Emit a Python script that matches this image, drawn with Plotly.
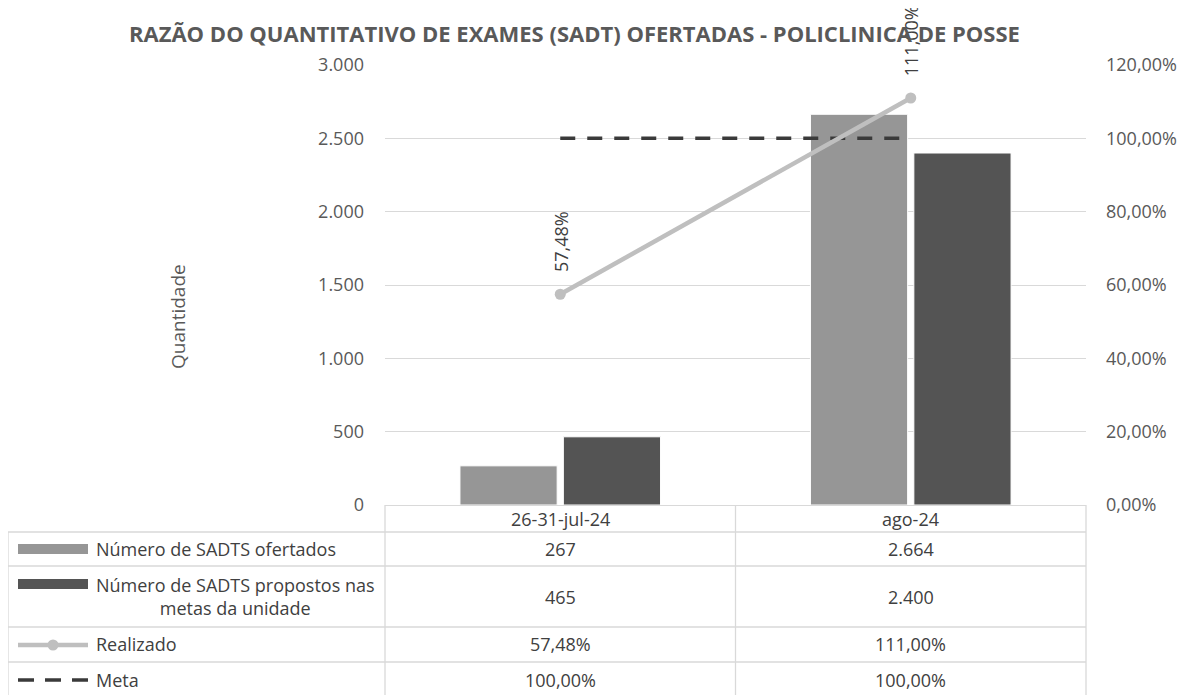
import plotly.graph_objects as go

# ---------------- data ----------------
categories = ["26-31-jul-24", "ago-24"]
ofertados = [267, 2664]
propostos = [465, 2400]
realizado = [0.5748, 1.11]
meta = [1.0, 1.0]
series_names = ["Número de SADTS ofertados",
                "Número de SADTS propostos nas<br>metas da unidade",
                "Realizado", "Meta"]
title_text = "RAZÃO DO QUANTITATIVO DE EXAMES (SADT) OFERTADAS - POLICLINICA DE POSSE"
y_title = "Quantidade"

# ---------------- style ----------------
OFF = 8                                   # page body margin of the html page
W, H = 1194 - OFF, 695 - OFF
L, R, T, B = 385, 1086, 65, 505          # plot area in page pixels
FONT = "Open Sans"
FS = 18
C_TXT = "#595959"
C_TAB = "#404040"
C_GRID = "#d9d9d9"
C_BAR1 = "#969696"
C_BAR2 = "#545454"
C_LINE = "#bfbfbf"
C_META = "#3a3a3a"


def px(x):
    return (x - L) / (R - L)


def py(y):
    return (B - y) / (B - T)


def fmt_int(v):
    return f"{v:,}".replace(",", ".")


def fmt_pct(v):
    return f"{v*100:.2f}%".replace(".", ",")


fig = go.Figure()
fig.add_trace(go.Bar(x=categories, y=ofertados, name=series_names[0],
                     marker=dict(color=C_BAR1, line=dict(color="white", width=1))))
fig.add_trace(go.Bar(x=categories, y=propostos, name=series_names[1],
                     marker=dict(color=C_BAR2, line=dict(color="white", width=1))))
fig.add_trace(go.Scatter(x=categories, y=meta, yaxis="y2", mode="lines", name="Meta",
                         line=dict(color=C_META, width=3.5, dash="15px,12px")))
fig.add_trace(go.Scatter(x=categories, y=realizado, yaxis="y2", mode="lines+markers",
                         name="Realizado",
                         line=dict(color=C_LINE, width=4.5),
                         marker=dict(color=C_LINE, size=11)))

annotations = []
shapes = []

# rotated data labels for Realizado
for c, v in zip(categories, realizado):
    annotations.append(dict(x=c, y=v, xref="x", yref="y2", text=fmt_pct(v),
                            textangle=-90, showarrow=False, xanchor="center",
                            yanchor="bottom", yshift=20,
                            font=dict(family=FONT, size=FS, color=C_TAB)))

# title & y title
annotations.append(dict(x=px(574), y=py(33), xref="paper", yref="paper",
                        text=f"<b>{title_text}</b>", showarrow=False,
                        xanchor="center", yanchor="middle",
                        font=dict(family=FONT, size=22, color=C_TXT)))
annotations.append(dict(x=px(178), y=py(317), xref="paper", yref="paper",
                        text=y_title, textangle=-90, showarrow=False,
                        xanchor="center", yanchor="middle",
                        font=dict(family=FONT, size=19, color=C_TXT)))

# ---------------- data table ----------------
row_lines = [532, 566, 627, 662]
row_centers = [549, 596.5, 644.5, 679.5]
row_values = [[fmt_int(v) for v in ofertados],
              [fmt_int(v) for v in propostos],
              [fmt_pct(v) for v in realizado],
              [fmt_pct(v) for v in meta]]

line_style = dict(color=C_GRID, width=1.3)
for yl in row_lines:
    shapes.append(dict(type="line", xref="paper", yref="paper",
                       x0=px(8), x1=px(R), y0=py(yl), y1=py(yl), line=line_style))
for xl, ytop in [(8, 532), (L, B), (735.5, B), (R, B)]:
    shapes.append(dict(type="line", xref="paper", yref="paper",
                       x0=px(xl), x1=px(xl), y0=py(ytop), y1=py(700), line=line_style))

# category header
for c in categories:
    annotations.append(dict(x=c, y=py(519), xref="x", yref="paper", text=c,
                            showarrow=False, xanchor="center", yanchor="middle",
                            font=dict(family=FONT, size=FS, color=C_TAB)))

for rc, vals in zip(row_centers, row_values):
    for c, t in zip(categories, vals):
        annotations.append(dict(x=c, y=py(rc), xref="x", yref="paper", text=t,
                                showarrow=False, xanchor="center", yanchor="middle",
                                font=dict(family=FONT, size=FS, color=C_TAB)))

# legend keys and names in table
for rc, name in zip(row_centers, series_names):
    annotations.append(dict(x=px(94), y=py(rc), xref="paper", yref="paper", text=name,
                            xanchor="left", yanchor="middle", align="center",
                            showarrow=False,
                            font=dict(family=FONT, size=FS, color=C_TAB)))
# bar keys
shapes.append(dict(type="rect", xref="paper", yref="paper", x0=px(18), x1=px(88),
                   y0=py(544), y1=py(554), fillcolor=C_BAR1, line=dict(width=0)))
shapes.append(dict(type="rect", xref="paper", yref="paper", x0=px(18), x1=px(88),
                   y0=py(579), y1=py(589), fillcolor=C_BAR2, line=dict(width=0)))
# Realizado key
shapes.append(dict(type="line", xref="paper", yref="paper", x0=px(18), x1=px(88),
                   y0=py(645), y1=py(645), line=dict(color=C_LINE, width=4.5)))
shapes.append(dict(type="circle", xref="paper", yref="paper", x0=px(47.5), x1=px(58.5),
                   y0=py(639.5), y1=py(650.5), fillcolor=C_LINE, line=dict(width=0)))
# Meta key
shapes.append(dict(type="line", xref="paper", yref="paper", x0=px(18), x1=px(88),
                   y0=py(680), y1=py(680), line=dict(color=C_META, width=3.5, dash="16px,11px")))

fig.update_layout(
    width=W, height=H,
    margin=dict(l=L - OFF, r=W - (R - OFF), t=T - OFF, b=H - (B - OFF), pad=0),
    paper_bgcolor="white", plot_bgcolor="white",
    separators=",.",
    showlegend=False,
    barmode="group", bargap=0.41, bargroupgap=0.06,
    font=dict(family=FONT, size=FS, color=C_TXT),
    xaxis=dict(type="category", showgrid=False, showline=False, ticks="",
               showticklabels=False),
    yaxis=dict(range=[0, 3000], dtick=500, tickformat=",d", showgrid=True,
               gridcolor=C_GRID, gridwidth=1.3, zeroline=True, zerolinecolor=C_GRID,
               zerolinewidth=1.3, showline=False, ticks="", ticklabelstandoff=20,
               tickfont=dict(family=FONT, size=FS, color=C_TXT)),
    yaxis2=dict(range=[0, 1.2], dtick=0.2, tickformat=".2%", overlaying="y", side="right",
                showgrid=False, zeroline=False, showline=False, ticks="",
                ticklabelstandoff=19, tickfont=dict(family=FONT, size=FS, color=C_TXT)),
    annotations=annotations,
    shapes=shapes,
)

fig.write_html("out.html")
